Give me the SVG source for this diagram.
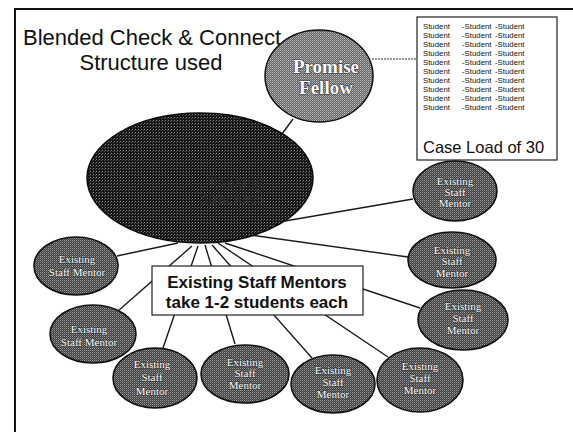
<svg xmlns="http://www.w3.org/2000/svg" width="573" height="432" viewBox="0 0 573 432">
  <defs>
    <!-- stippled halftone fills -->
    <pattern id="dotsDark" width="3" height="3" patternUnits="userSpaceOnUse">
      <rect width="3" height="3" fill="#161616"/>
      <rect x="0" y="0" width="1" height="1" fill="#8a8a8a"/>
      <rect x="2" y="1" width="1" height="1" fill="#505050"/>
    </pattern>
    <pattern id="dotsMid" width="2" height="2" patternUnits="userSpaceOnUse">
      <rect width="2" height="2" fill="#3e3e3e"/>
      <rect x="0" y="0" width="1" height="1" fill="#9c9c9c"/>
      <rect x="1" y="1" width="1" height="1" fill="#666"/>
    </pattern>
    <pattern id="dotsLight" width="2" height="2" patternUnits="userSpaceOnUse">
      <rect width="2" height="2" fill="#626262"/>
      <rect x="0" y="0" width="1" height="1" fill="#c0c0c0"/>
      <rect x="1" y="1" width="1" height="1" fill="#949494"/>
    </pattern>
  </defs>
  <style>
    .frame { fill: none; stroke: #111; stroke-width: 2; }
    .link { fill: none; stroke: #1a1a1a; stroke-width: 1.4; }
    .dash { fill: none; stroke: #333; stroke-width: 1.2; stroke-dasharray: 2 1; }
    .mentor ellipse { fill: url(#dotsMid); stroke: #111; stroke-width: 1.6; }
    .mentor text, .fellow text { font-family: "Liberation Serif", "Times New Roman", serif; fill: #fff; stroke: #333; stroke-width: 1.2; paint-order: stroke; text-anchor: middle; }
    .mentor text { font-size: 11px; }
    .fellow text { font-size: 19px; font-weight: bold; }
    .title { font-family: "Liberation Sans", Arial, sans-serif; font-size: 22px; fill: #111; text-anchor: middle; }
    .roster { font-family: "Liberation Sans", Arial, sans-serif; font-size: 7.8px; fill: #111; }
    .caseload { font-family: "Liberation Sans", Arial, sans-serif; font-size: 16.5px; fill: #111; }
    .note { font-family: "Liberation Sans", Arial, sans-serif; font-size: 17px; font-weight: bold; fill: #111; text-anchor: middle; }
    .box { fill: #fff; stroke: #222; stroke-width: 1.2; }
  </style>

  <rect width="573" height="432" fill="#fff"/>
  <!-- slide frame -->
  <polyline class="frame" points="15,432 15,9 573,9"/>

  <!-- title -->
  <text class="title" x="152" y="45">Blended Check &amp; Connect</text>
  <text class="title" x="151" y="70">Structure used</text>

  <!-- connectors -->
  <g id="connectors">
    <line class="dash" x1="372" y1="59" x2="417" y2="59"/>
    <line class="link" x1="282" y1="134" x2="293" y2="119"/>
    <line class="link" x1="178" y1="243" x2="117" y2="256"/>
    <line class="link" x1="285" y1="221" x2="413" y2="199"/>
    <line class="link" x1="250" y1="235" x2="408" y2="257"/>
    <line class="link" x1="225" y1="243" x2="420" y2="308"/>
    <line class="link" x1="192" y1="246" x2="118" y2="311"/>
    <line class="link" x1="198" y1="246" x2="163" y2="348"/>
    <line class="link" x1="205" y1="245" x2="235" y2="344"/>
    <line class="link" x1="212" y1="245" x2="312" y2="358"/>
    <line class="link" x1="218" y1="243" x2="388" y2="357"/>
  </g>

  <!-- central hub -->
  <g id="hub">
    <ellipse cx="200" cy="178" rx="113" ry="65" fill="url(#dotsDark)" stroke="#0a0a0a" stroke-width="1.5"/>
    <text x="236" y="188" font-family="Liberation Serif, serif" font-size="16" fill="#2c2c2c" text-anchor="middle">Existing</text>
    <text x="232" y="204" font-family="Liberation Serif, serif" font-size="16" fill="#2c2c2c" text-anchor="middle">Structures</text>
  </g>

  <!-- promise fellow -->
  <g id="fellow" class="fellow">
    <ellipse cx="319" cy="76" rx="54" ry="46" fill="url(#dotsLight)" stroke="#111" stroke-width="1.5"/>
    <text x="326" y="73">Promise</text>
    <text x="326" y="94">Fellow</text>
  </g>

  <!-- case load roster -->
  <g id="caseload">
    <rect class="box" x="417" y="17" width="140" height="143"/>
    <g class="roster">
      <text x="423" y="29">Student</text><text x="462" y="29">-Student</text><text x="495" y="29">-Student</text>
      <text x="423" y="38">Student</text><text x="462" y="38">-Student</text><text x="495" y="38">-Student</text>
      <text x="423" y="47">Student</text><text x="462" y="47">-Student</text><text x="495" y="47">-Student</text>
      <text x="423" y="56">Student</text><text x="462" y="56">-Student</text><text x="495" y="56">-Student</text>
      <text x="423" y="65">Student</text><text x="462" y="65">-Student</text><text x="495" y="65">-Student</text>
      <text x="423" y="74">Student</text><text x="462" y="74">-Student</text><text x="495" y="74">-Student</text>
      <text x="423" y="83">Student</text><text x="462" y="83">-Student</text><text x="495" y="83">-Student</text>
      <text x="423" y="92">Student</text><text x="462" y="92">-Student</text><text x="495" y="92">-Student</text>
      <text x="423" y="101">Student</text><text x="462" y="101">-Student</text><text x="495" y="101">-Student</text>
      <text x="423" y="110">Student</text><text x="462" y="110">-Student</text><text x="495" y="110">-Student</text>
    </g>
    <text class="caseload" x="423" y="153">Case Load of 30</text>
  </g>

  <!-- staff mentors -->
  <g id="mentor-r1" class="mentor">
    <ellipse cx="455" cy="191" rx="42" ry="30"/>
    <text x="455" y="185">Existing</text><text x="455" y="196">Staff</text><text x="455" y="207">Mentor</text>
  </g>
  <g id="mentor-r2" class="mentor">
    <ellipse cx="452" cy="260" rx="44" ry="28"/>
    <text x="452" y="254">Existing</text><text x="452" y="265">Staff</text><text x="452" y="277">Mentor</text>
  </g>
  <g id="mentor-r3" class="mentor">
    <ellipse cx="463" cy="320" rx="45" ry="30"/>
    <text x="463" y="310">Existing</text><text x="463" y="322">Staff</text><text x="463" y="334">Mentor</text>
  </g>
  <g id="mentor-b4" class="mentor">
    <ellipse cx="420" cy="380" rx="43" ry="32"/>
    <text x="420" y="370">Existing</text><text x="420" y="382">Staff</text><text x="420" y="394">Mentor</text>
  </g>
  <g id="mentor-b3" class="mentor">
    <ellipse cx="333" cy="384" rx="42" ry="29"/>
    <text x="333" y="374">Existing</text><text x="333" y="386">Staff</text><text x="333" y="398">Mentor</text>
  </g>
  <g id="mentor-b2" class="mentor">
    <ellipse cx="245" cy="374" rx="44" ry="29"/>
    <text x="245" y="366">Existing</text><text x="245" y="377">Staff</text><text x="245" y="389">Mentor</text>
  </g>
  <g id="mentor-b1" class="mentor">
    <ellipse cx="155" cy="378" rx="42" ry="30"/>
    <text x="152" y="368">Existing</text><text x="152" y="381">Staff</text><text x="152" y="395">Mentor</text>
  </g>
  <g id="mentor-l2" class="mentor">
    <ellipse cx="93" cy="334" rx="43" ry="29"/>
    <text x="89" y="333">Existing</text><text x="89" y="346">Staff Mentor</text>
  </g>
  <g id="mentor-l1" class="mentor">
    <ellipse cx="76" cy="266" rx="42" ry="29"/>
    <text x="77" y="263">Existing</text><text x="77" y="276">Staff Mentor</text>
  </g>

  <!-- callout -->
  <g id="callout">
    <rect class="box" x="152" y="266" width="211" height="49"/>
    <text class="note" x="257" y="288">Existing Staff Mentors</text>
    <text class="note" x="257" y="308">take 1-2 students each</text>
  </g>
</svg>
